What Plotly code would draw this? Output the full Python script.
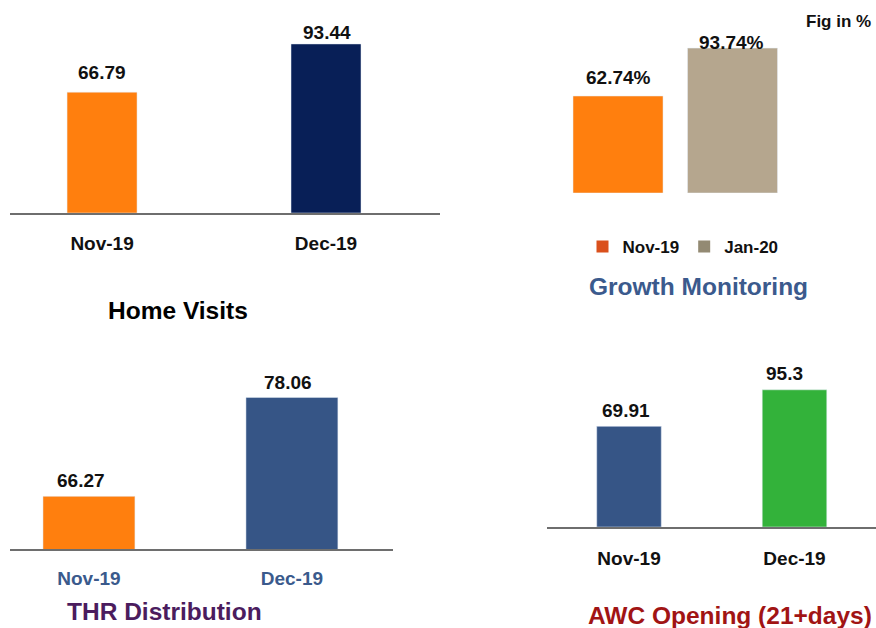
import plotly.graph_objects as go

FONT = "Liberation Sans, Arial, sans-serif"
W, H = 876, 628

# ---------------- data ----------------
hv_months = ["Nov-19", "Dec-19"]
hv_values = [66.79, 93.44]

gm_months = ["Nov-19", "Jan-20"]
gm_values = [62.74, 93.74]

thr_months = ["Nov-19", "Dec-19"]
thr_values = [66.27, 78.06]

awc_months = ["Nov-19", "Dec-19"]
awc_values = [69.91, 95.3]

# ---------------- styles ----------------
ORANGE = "#FF7F0E"
NAVY = "#081F57"
STEEL = "#365586"
TAN = "#B5A68E"
GREEN = "#33B23A"
LEG_NOV = "#DA501C"
LEG_JAN = "#938A73"
AXIS_LINE = "#6E6E6E"


def px_x(p):
    return min(1.0, max(0.0, p / W))


def px_y(p):
    return min(1.0, max(0.0, 1 - p / H))


fig = go.Figure()

# Panel 1: Home Visits
fig.add_trace(go.Bar(x=hv_months, y=hv_values, marker_color=[ORANGE, NAVY],
                     width=0.3125, xaxis="x", yaxis="y", showlegend=False))
# Panel 2: Growth Monitoring
fig.add_trace(go.Bar(x=[gm_months[0]], y=[gm_values[0]], marker_color=ORANGE,
                     width=0.786, xaxis="x2", yaxis="y2", showlegend=False))
fig.add_trace(go.Bar(x=[gm_months[1]], y=[gm_values[1]], marker_color=TAN,
                     width=0.786, xaxis="x2", yaxis="y2", showlegend=False))
# legend entries for panel 2
fig.add_trace(go.Scatter(x=[None], y=[None], mode="markers", name=gm_months[0],
                         marker=dict(symbol="square", size=12, color=LEG_NOV),
                         xaxis="x2", yaxis="y2"))
fig.add_trace(go.Scatter(x=[None], y=[None], mode="markers", name=gm_months[1],
                         marker=dict(symbol="square", size=12, color=LEG_JAN),
                         xaxis="x2", yaxis="y2"))
# Panel 3: THR Distribution
fig.add_trace(go.Bar(x=thr_months, y=thr_values, marker_color=[ORANGE, STEEL],
                     width=0.453, xaxis="x3", yaxis="y3", showlegend=False))
# Panel 4: AWC Opening
fig.add_trace(go.Bar(x=awc_months, y=awc_values, marker_color=[STEEL, GREEN],
                     width=0.39, xaxis="x4", yaxis="y4", showlegend=False))

tickfont_black = dict(family=FONT, size=19, color="#111111", weight="bold")
tickfont_blue = dict(family=FONT, size=19, color="#3A5A8C", weight="bold")

common_x = dict(type="category", showgrid=False, zeroline=False, ticks="",
                showline=True, linecolor=AXIS_LINE, linewidth=1.5, fixedrange=True)
hidden = dict(visible=False, showgrid=False, zeroline=False, fixedrange=True)

fig.update_layout(
    width=W, height=H,
    margin=dict(l=0, r=0, t=0, b=0),
    paper_bgcolor="white", plot_bgcolor="white",
    barmode="overlay",
    font=dict(family=FONT),
    xaxis=dict(**common_x, domain=[px_x(10), px_x(440)], range=[-0.411, 1.509],
               anchor="y", tickfont=tickfont_black, ticklabelstandoff=12),
    yaxis=dict(**hidden, domain=[px_y(213), px_y(10)], range=[0, 112.2], anchor="x"),
    xaxis2=dict(**hidden, type="category", domain=[px_x(440), 1], range=[-1.5546, 2.253], anchor="y2"),
    yaxis2=dict(**hidden, domain=[px_y(193), px_y(10)], range=[0, 118.4], anchor="x2"),
    xaxis3=dict(**common_x, domain=[px_x(10), px_x(393)], range=[-0.389, 1.498],
                anchor="y3", tickfont=tickfont_blue, ticklabelstandoff=11),
    yaxis3=dict(**hidden, domain=[px_y(549), px_y(340)], range=[60, 84.9], anchor="x3"),
    xaxis4=dict(**common_x, domain=[px_x(547), 1], range=[-0.4955, 1.4924],
                anchor="y4", tickfont=tickfont_black, ticklabelstandoff=13),
    yaxis4=dict(**hidden, domain=[px_y(527), px_y(340)], range=[0, 129.9], anchor="x4"),
    legend=dict(orientation="h", x=px_x(683), y=px_y(247), xanchor="center", yanchor="middle",
                font=dict(family=FONT, size=17, color="#111111", weight="bold"),
                bgcolor="rgba(0,0,0,0)", itemclick=False, itemdoubleclick=False,
                tracegroupgap=0, itemwidth=30),
)

# value labels
label_font = dict(family=FONT, size=19, color="#111111", weight="bold")
value_labels = [
    ("x", "y", hv_months, hv_values, "", [0, 1], [20, 11]),
    ("x2", "y2", gm_months, gm_values, "%", [0, -1], [19, 6]),
    ("x3", "y3", thr_months, thr_values, "", [-8, -4], [16, 15]),
    ("x4", "y4", awc_months, awc_values, "", [-3, -10], [16, 16]),
]
for xr, yr, cats, vals, suffix, xs, ys in value_labels:
    for c, v, dx, dy in zip(cats, vals, xs, ys):
        fig.add_annotation(x=c, y=v, xref=xr, yref=yr, text=f"{v}{suffix}",
                           showarrow=False, yanchor="middle", xanchor="center",
                           xshift=dx, yshift=dy, font=label_font)

# titles
titles = [
    ("Home Visits", 178, 310, "#000000"),
    ("Growth Monitoring", 698, 286, "#3B5A8D"),
    ("THR Distribution", 164, 611, "#4B1C5E"),
    ("AWC Opening (21+days)", 729.5, 615, "#A11414"),
]
for text, cx, cy, col in titles:
    fig.add_annotation(x=px_x(cx), y=px_y(cy), xref="paper", yref="paper", text=text,
                       showarrow=False, xanchor="center", yanchor="middle",
                       font=dict(family=FONT, size=24.5, color=col, weight="bold"))

fig.add_annotation(x=px_x(873), y=px_y(22), xref="paper", yref="paper", text="Fig in %",
                   showarrow=False, xanchor="right", yanchor="middle",
                   font=dict(family=FONT, size=17, color="#111111", weight="bold"))

# remove the default 8px page margin so the figure fills the window exactly
fig.write_html("out.html", config={"displayModeBar": False},
               post_script="document.body.style.margin='0';")
